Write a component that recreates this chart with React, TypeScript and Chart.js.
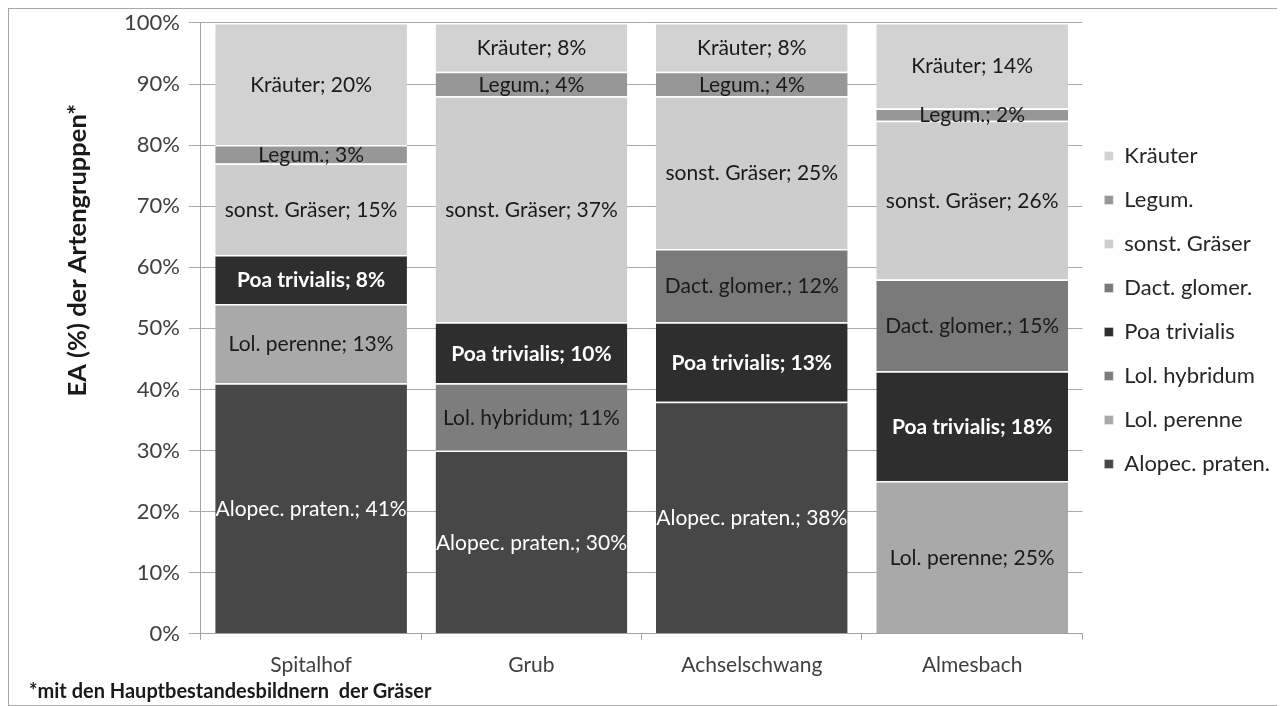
import React, { useEffect, useRef } from "react";
import { Chart, registerables } from "chart.js";

Chart.register(...registerables);

const sites = ["Spitalhof", "Grub", "Achselschwang", "Almesbach"];
const groupNames = [
  "Alopec. praten.",
  "Lol. perenne",
  "Lol. hybridum",
  "Poa trivialis",
  "Dact. glomer.",
  "sonst. Gräser",
  "Legum.",
  "Kräuter",
];
const alopec = [41, 30, 38, 0];
const lolPerenne = [13, 0, 0, 25];
const lolHybridum = [0, 11, 0, 0];
const poaTrivialis = [8, 10, 13, 18];
const dactGlomer = [0, 0, 12, 15];
const sonstGraeser = [15, 37, 25, 26];
const legum = [3, 4, 4, 2];
const kraeuter = [20, 8, 8, 14];
const seriesValues = [alopec, lolPerenne, lolHybridum, poaTrivialis, dactGlomer, sonstGraeser, legum, kraeuter];
const seriesColors = ["#474747", "#a9a9a9", "#7d7d7d", "#2e2e2e", "#7a7a7a", "#cdcdcd", "#979797", "#d2d2d2"];
const labelColors = ["#ffffff", "#1a1a1a", "#1a1a1a", "#ffffff", "#1a1a1a", "#1a1a1a", "#1a1a1a", "#1a1a1a"];
const labelBold = [false, false, false, true, false, false, false, false];
const yTicks = [0, 10, 20, 30, 40, 50, 60, 70, 80, 90, 100];
const yTitle = "EA (%) der Artengruppen*";
const footnote = "*mit den Hauptbestandesbildnern  der Gräser";

const FONT = "Lato, 'Open Sans', sans-serif";

const labelPlugin = {
  id: "segLabels",
  afterDatasetsDraw(chart: any) {
    const ctx = chart.ctx;
    ctx.save();
    ctx.textAlign = "center";
    ctx.textBaseline = "middle";
    chart.data.datasets.forEach((ds: any, di: number) => {
      const meta = chart.getDatasetMeta(di);
      meta.data.forEach((el: any, i: number) => {
        const v = ds.data[i];
        if (!v) return;
        const p = el.getProps(["x", "y", "base"], true);
        ctx.font = (labelBold[di] ? "bold " : "") + "21px " + FONT;
        ctx.fillStyle = labelColors[di];
        ctx.fillText(ds.label + "; " + v + "%", p.x, (p.y + p.base) / 2 + 1);
      });
    });
    ctx.restore();
  },
};

const yTitlePlugin = {
  id: "yTitle",
  afterDraw(chart: any) {
    const ctx = chart.ctx;
    const a = chart.chartArea;
    ctx.save();
    ctx.translate(69, a.top + (a.bottom - a.top) * 0.372);
    ctx.rotate(-Math.PI / 2);
    ctx.textAlign = "center";
    ctx.textBaseline = "middle";
    ctx.font = "bold 25.5px " + FONT;
    ctx.fillStyle = "#1a1a1a";
    ctx.fillText(yTitle, 0, 0);
    ctx.restore();
  },
};

export default function App() {
  const ref = useRef<HTMLCanvasElement>(null);
  useEffect(() => {
    if (!ref.current) return;
    const chart = new Chart(ref.current, {
      type: "bar",
      data: {
        labels: sites,
        datasets: groupNames.map((name, i) => ({
          label: name,
          data: seriesValues[i],
          backgroundColor: seriesColors[i],
          borderColor: "#ffffff",
          borderWidth: { top: 1.5, bottom: 0, left: 0, right: 0 },
          borderSkipped: false,
          barPercentage: 0.87,
          categoryPercentage: 1,
        })),
      },
      options: {
        responsive: false,
        animation: false,
        layout: { padding: { top: 0, right: 2, bottom: 14, left: 106 } },
        plugins: {
          legend: {
            position: "right",
            align: "start",
            reverse: true,
            title: { display: true, text: " ", padding: { top: 102, bottom: 0 }, font: { family: FONT, size: 10 } },
            labels: {
              boxWidth: 9,
              boxHeight: 9,
              padding: 22,
              color: "#262626",
              font: { family: FONT, size: 22 },
            },
          },
          tooltip: { enabled: false },
        },
        scales: {
          x: {
            stacked: true,
            grid: { display: true, drawOnChartArea: false, offset: true, tickLength: 6, color: "#a89f9f" },
            border: { display: true, color: "#a89f9f" },
            ticks: { color: "#404040", font: { family: FONT, size: 21 }, padding: 13 },
          },
          y: {
            stacked: true,
            min: 0,
            max: 100,
            afterBuildTicks: (axis: any) => {
              axis.ticks = yTicks.map((v) => ({ value: v }));
            },
            grid: { color: "#b0a8a8", tickLength: 12 },
            border: { display: true, color: "#a89f9f" },
            ticks: {
              color: "#404040",
              font: { family: FONT, size: 22, lineHeight: 0.45 },
              padding: 9,
              callback: (v: any) => v + "%",
            },
          },
        },
      },
      plugins: [labelPlugin, yTitlePlugin],
    });
    return () => chart.destroy();
  }, []);
  return (
    <div
      style={{
        position: "relative",
        width: 1275,
        height: 698,
        border: "1px solid #a6a6a6",
        boxSizing: "border-box",
        background: "#ffffff",
      }}
    >
      <canvas ref={ref} width={1273} height={696} style={{ display: "block" }} />
      <div
        style={{
          position: "absolute",
          left: 20,
          top: 669,
          fontFamily: FONT,
          fontSize: 20,
          fontWeight: "bold",
          color: "#1a1a1a",
          whiteSpace: "pre",
          lineHeight: "24px",
        }}
      >
        {footnote}
      </div>
    </div>
  );
}
